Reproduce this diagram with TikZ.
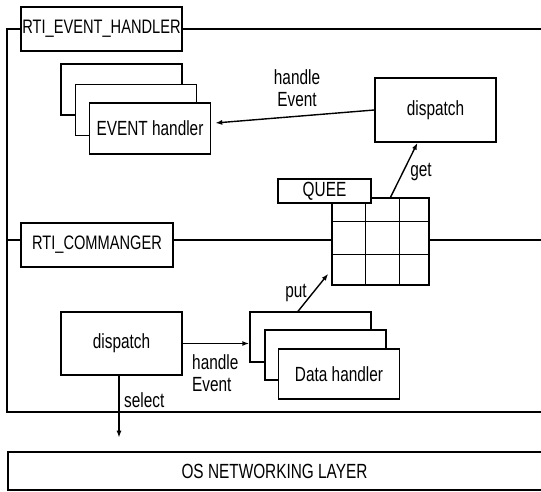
\documentclass[tikz,border=0pt]{standalone}
\usepackage{fontspec}
\setmainfont{Liberation Sans}[FakeStretch=0.75]
\usetikzlibrary{arrows.meta,calc}
\tikzset{
  frame/.style={line width=1.5pt},
  title/.style={
    draw,
    line width=1.4pt,
    fill=white,
    minimum height=44pt,
    inner sep=0pt,
    font=\fontsize{19.5}{22}\selectfont
  },
  box/.style={
    draw,
    line width=1.4pt,
    fill=white,
    minimum width=121pt,
    inner sep=0pt
  },
  cell/.style={line width=1.4pt},
  tag/.style={inner sep=0pt,align=center},
  arrow/.style={-{Latex[length=7pt,width=5pt]},line width=1.4pt}
}

\begin{document}
\begin{tikzpicture}[x=1pt,y=-1pt,font=\fontsize{20.5}{22}\selectfont]
\useasboundingbox (0,0) rectangle (541,492);

\coordinate (top) at (7,29);
\coordinate (mid) at (7,240);
\coordinate (bot) at (7,412);
\coordinate (edge) at (541,412);

\node[title,minimum width=161pt] (evh) at (101.5,29) {RTI\_EVENT\_HANDLER};
\node[title,minimum width=152pt] (cmd) at (97,245) {RTI\_COMMANGER};

\draw[frame] (evh.west) -- (top) -- (bot) -- (edge);
\draw[frame] (evh.east) -- (evh.east -| edge);
\draw[frame] (mid) -- (mid -| cmd.west);
\draw[frame] (mid -| cmd.east) -- (mid -| edge);

\node[box,minimum height=51pt] (eh1) at (121.5,89.5) {};
\node[box,minimum height=51pt] (eh2) at ($(eh1)+(14.5,20.5)$) {};
\node[box,minimum height=51pt] (eh3) at ($(eh2)+(14,18.5)$) {EVENT handler};

\node[box,minimum height=64pt] (dsp1) at (435.5,110) {dispatch};

\node[draw,cell,fill=white,minimum width=97pt,minimum height=87pt,inner sep=0pt] (queue) at (380.5,241.5) {};
\foreach \dx in {34,68}
  \draw[cell] ($(queue.north west)+(\dx,0)$) -- ($(queue.south west)+(\dx,0)$);
\foreach \dy in {24,57}
  \draw[cell] ($(queue.north west)+(0,\dy)$) -- ($(queue.north east)+(0,\dy)$);
\node[draw,cell,fill=white,minimum width=93pt,minimum height=24pt,inner sep=0pt] (quee) at (324.5,191) {QUEE};

\node[box,minimum height=63pt] (dsp2) at (121.5,343.5) {dispatch};

\node[box,minimum height=50pt] (dh1) at (310.5,337) {};
\node[box,minimum height=50pt] (dh2) at ($(dh1)+(15,18)$) {};
\node[box,minimum height=50pt] (dh3) at ($(dh2)+(13.5,19)$) {Data handler};

\node[draw,frame,minimum width=541pt,minimum height=38pt,inner sep=0pt,anchor=north west] (os) at (7,451) {};
\node (ost) at (274.5,471) {OS NETWORKING LAYER};

\coordinate (sel) at ($(dsp2.south)+(-2.5,62)$);

\draw[arrow] (dsp1.west) -- ([xshift=4pt,yshift=5.5pt]eh3.east);
\node[tag] (he1) at (297,88) {handle\\Event};
\draw[arrow] ([xshift=10pt]queue.north) -- ([xshift=-18pt]dsp1.south);
\node[tag] (get) at (421,172) {get};

\draw[arrow] (dsp2.east) -- (dsp2.east -| dh1.west);
\node[tag,align=left,anchor=west] (he2) at (192,373) {handle\\Event};
\draw[arrow] ([xshift=-12.5pt]dh1.north) -- ([xshift=-3pt,yshift=12pt]queue.south west);
\node[tag] (put) at (296,293) {put};
\draw[arrow] ([xshift=-2.5pt]dsp2.south) -- (sel);
\node[tag,anchor=west] (selt) at (124,400) {select};

\end{tikzpicture}
\end{document}
